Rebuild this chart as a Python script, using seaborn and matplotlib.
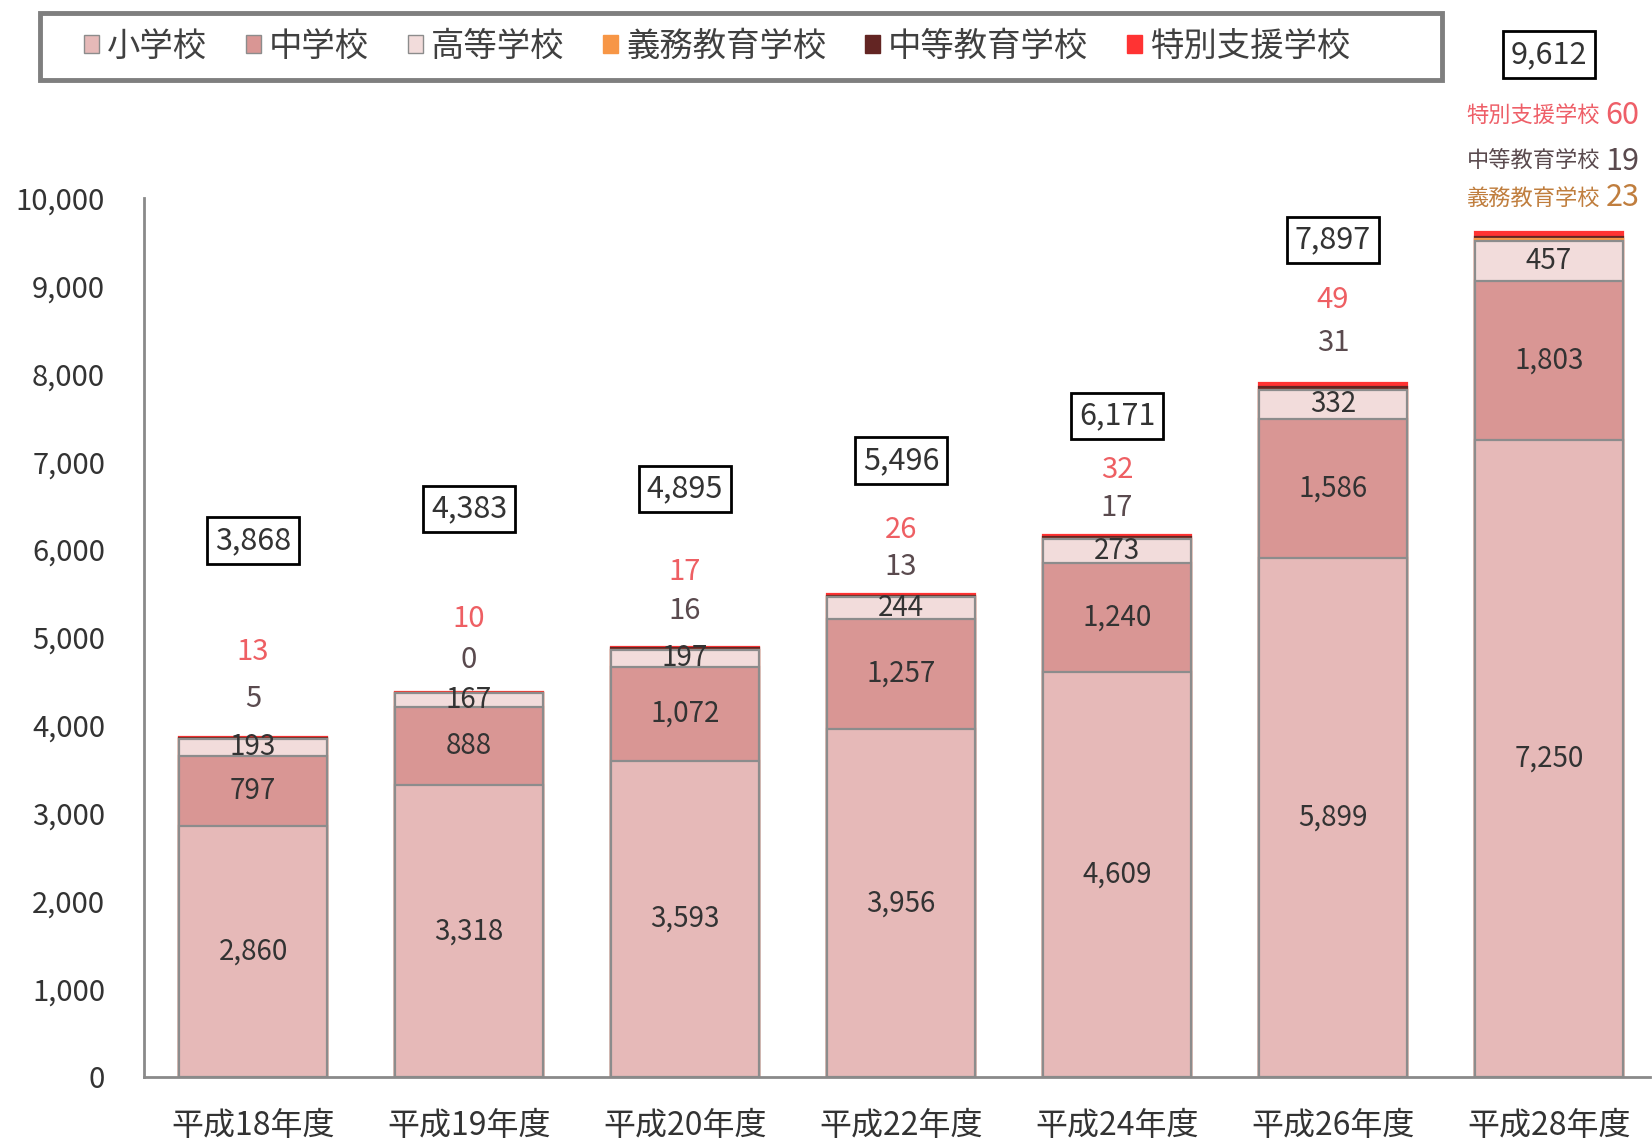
import matplotlib

matplotlib.use("Agg")
import matplotlib.pyplot as plt
import pandas as pd
import seaborn as sns
from matplotlib.patches import Patch, Rectangle
from matplotlib.ticker import FuncFormatter

YEARS = ["平成18年度", "平成19年度", "平成20年度", "平成22年度", "平成24年度", "平成26年度", "平成28年度"]
ELEMENTARY = [2860, 3318, 3593, 3956, 4609, 5899, 7250]
JUNIOR_HIGH = [797, 888, 1072, 1257, 1240, 1586, 1803]
HIGH = [193, 167, 197, 244, 273, 332, 457]
COMPULSORY = [0, 0, 0, 0, 0, 0, 23]
SECONDARY = [5, 0, 16, 13, 17, 31, 19]
SPECIAL = [13, 10, 17, 26, 32, 49, 60]
TOTALS = [3868, 4383, 4895, 5496, 6171, 7897, 9612]

SCHOOL_TYPES = ["小学校", "中学校", "高等学校", "義務教育学校", "中等教育学校", "特別支援学校"]
COLORS = ["#E6B9B8", "#D99694", "#F2DCDB", "#F79646", "#632523", "#FF3333"]

# label heights (data units) for the annotations above the bars
SECONDARY_LABEL_Y = [4305, 4748, 5300, 5803, 6475, 8345]
SPECIAL_LABEL_Y = [4832, 5216, 5743, 6223, 6906, 8837]
TOTAL_LABEL_Y = [6103, 6463, 6691, 7014, 7518, 9520, 11631]
LAST_LABEL_Y = {"特別支援学校": 10935, "中等教育学校": 10420, "義務教育学校": 10000}

EDGE = "#8C8C8C"
TEXT = "#333333"


def build_frame():
    layers = [ELEMENTARY, JUNIOR_HIGH, HIGH, COMPULSORY, SECONDARY, SPECIAL]
    df = pd.DataFrame({"year": YEARS})
    running = [0] * len(YEARS)
    for name, values in zip(SCHOOL_TYPES, layers):
        running = [r + v for r, v in zip(running, values)]
        df[name] = running
    return df


def main():
    sns.set_theme(style="white")
    plt.rcParams["font.family"] = ["Noto Sans CJK JP", "DejaVu Sans"]

    df = build_frame()
    fig = plt.figure(figsize=(16.52, 11.39), dpi=100)
    ax = fig.add_axes([144 / 1652, 62 / 1139, 1506 / 1652, 879 / 1139])

    # stacked bars: draw cumulative heights from the top layer down
    for idx in range(len(SCHOOL_TYPES) - 1, -1, -1):
        edge = EDGE if idx < 3 else COLORS[idx]
        sns.barplot(
            data=df,
            x="year",
            y=SCHOOL_TYPES[idx],
            color=COLORS[idx],
            saturation=1,
            width=0.685,
            edgecolor=edge,
            linewidth=1.6,
            errorbar=None,
            ax=ax,
        )

    ax.set_xlim(-0.505, 6.468)
    ax.set_ylim(0, 10000)
    ax.set_yticks(range(0, 10001, 1000))
    ax.yaxis.set_major_formatter(FuncFormatter(lambda v, _: f"{int(v):,}"))
    ax.set_xlabel("")
    ax.set_ylabel("")
    ax.tick_params(axis="y", length=0, pad=28, labelsize=21, labelcolor=TEXT)
    ax.tick_params(axis="x", length=0, pad=24, labelsize=23, labelcolor=TEXT)
    for side in ["top", "right"]:
        ax.spines[side].set_visible(False)
    for side in ["left", "bottom"]:
        ax.spines[side].set_color("#8A8A8A")
        ax.spines[side].set_linewidth(2)

    # segment values
    for i in range(len(YEARS)):
        base = 0
        for values in [ELEMENTARY, JUNIOR_HIGH, HIGH]:
            ax.text(i, base + values[i] / 2, f"{values[i]:,}", ha="center", va="center",
                    fontsize=20, color=TEXT)
            base += values[i]

    # small counts above bars
    for i in range(len(YEARS) - 1):
        ax.text(i, SECONDARY_LABEL_Y[i], str(SECONDARY[i]), ha="center", va="center",
                fontsize=21, color="#5A4A4E", clip_on=False)
        ax.text(i, SPECIAL_LABEL_Y[i], str(SPECIAL[i]), ha="center", va="center",
                fontsize=21, color="#EE5F63", clip_on=False)

    last = len(YEARS) - 1
    last_values = {"特別支援学校": SPECIAL[last], "中等教育学校": SECONDARY[last],
                   "義務教育学校": COMPULSORY[last]}
    last_colors = {"特別支援学校": "#EE5F68", "中等教育学校": "#5A4A4E",
                   "義務教育学校": "#C07E3E"}
    for name, y in LAST_LABEL_Y.items():
        ax.text(last + 0.236, y, name, ha="right", va="center", fontsize=16,
                color=last_colors[name], clip_on=False)
        ax.text(last + 0.262, y, str(last_values[name]), ha="left", va="center",
                fontsize=22, color=last_colors[name], clip_on=False)

    # totals in boxes
    for i, total in enumerate(TOTALS):
        ax.text(i, TOTAL_LABEL_Y[i], f"{total:,}", ha="center", va="center", fontsize=22,
                color=TEXT, clip_on=False,
                bbox=dict(boxstyle="square,pad=0.25", facecolor="white",
                          edgecolor="black", linewidth=2))

    # legend with a separate wide frame
    handles = [
        Patch(facecolor=c, edgecolor=EDGE if k < 3 else c, linewidth=1)
        for k, c in enumerate(COLORS)
    ]
    fig.legend(
        handles,
        SCHOOL_TYPES,
        loc="center left",
        bbox_to_anchor=(84 / 1652, 1 - 46.5 / 1139),
        ncol=6,
        frameon=False,
        fontsize=24,
        handlelength=0.45,
        handleheight=0.45,
        handletextpad=0.25,
        columnspacing=1.15,
        borderpad=0,
        borderaxespad=0,
        labelcolor="#404040",
    )
    fig.add_artist(Rectangle((40 / 1652, 1 - 80 / 1139), 1402 / 1652, 67 / 1139,
                             transform=fig.transFigure, fill=False,
                             edgecolor="#7F7F7F", linewidth=3.5))

    fig.savefig("out.png", dpi=100)
    plt.close(fig)


if __name__ == "__main__":
    main()
